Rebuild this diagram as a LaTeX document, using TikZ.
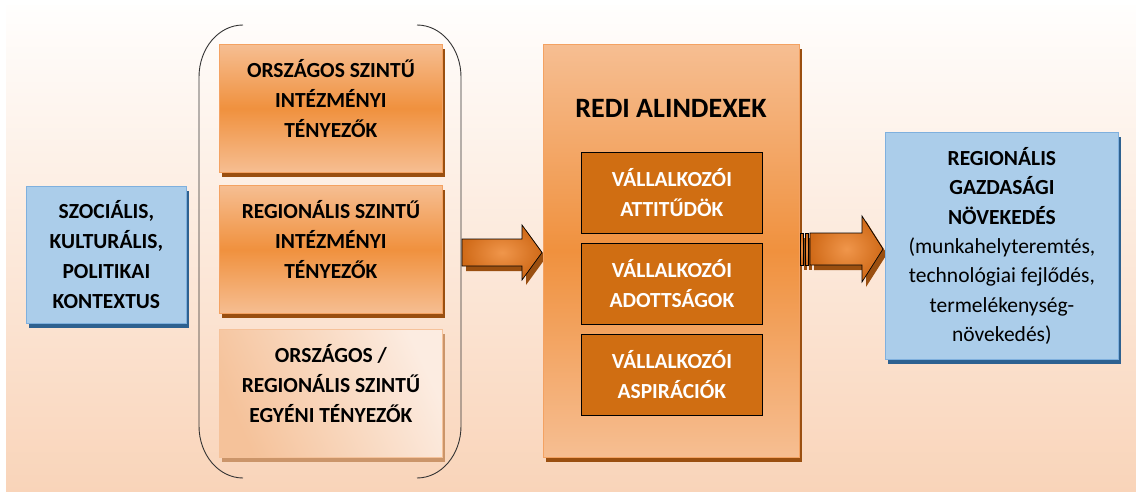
\documentclass[tikz,border=0pt]{standalone}
\usepackage{fontspec}
\setmainfont{Carlito}
\usetikzlibrary{shadows}

\definecolor{bgtop}{HTML}{FFFEFD}
\definecolor{bgbot}{HTML}{F9D4B9}
\definecolor{bluefill}{HTML}{ABCDEA}
\definecolor{blueline}{HTML}{7FB0DE}
\definecolor{blueshade}{HTML}{2E6190}
\definecolor{orangelight}{HTML}{F6BE92}
\definecolor{orangemid}{HTML}{F0913E}
\definecolor{orangeline}{HTML}{F4A262}
\definecolor{brownshade}{HTML}{9A4F10}
\definecolor{peachdark}{HTML}{F5C29A}
\definecolor{peachlight}{HTML}{FCECE1}
\definecolor{peachshade}{HTML}{CB956A}
\definecolor{subfill}{HTML}{D06E12}
\definecolor{arrowlight}{HTML}{F0964B}
\definecolor{arrowdark}{HTML}{D06A18}

\tikzset{
  boldtext/.style={font=\fontsize{21.5}{30}\selectfont\bfseries,align=center},
  bluebox/.style={draw=blueline,line width=0.8pt,fill=bluefill,anchor=north west,
    inner sep=0pt,
    drop shadow={shadow xshift=3pt,shadow yshift=-5pt,fill=blueshade,opacity=1}},
  factorbox/.style={draw=orangeline,line width=0.8pt,anchor=north west,
    minimum width=223pt,minimum height=128pt,inner sep=0pt,
    top color=orangelight,bottom color=orangelight,middle color=orangemid,
    drop shadow={shadow xshift=3pt,shadow yshift=-5pt,fill=brownshade,opacity=1}},
  lightfactor/.style={draw=peachdark,top color=peachdark,bottom color=peachlight,
    shading angle=115,
    drop shadow={shadow xshift=3pt,shadow yshift=-5pt,fill=peachshade,opacity=1}},
  redibox/.style={draw=orangeline,line width=0.8pt,anchor=north west,
    minimum width=256pt,minimum height=413pt,inner sep=0pt,
    top color=orangelight,bottom color=orangelight,middle color=orangemid,
    drop shadow={shadow xshift=3pt,shadow yshift=-5pt,fill=brownshade,opacity=1}},
  subbox/.style={draw=black,line width=0.8pt,fill=subfill,anchor=north west,
    minimum width=181pt,minimum height=81pt,inner sep=0pt,
    text=white,boldtext},
  blockarrow/.style={draw=black,line width=0.7pt,inner color=arrowlight,outer color=arrowdark,
    drop shadow={shadow xshift=4pt,shadow yshift=-5pt,fill=brownshade,opacity=1}},
  bracket/.style={draw=black!80,line width=0.9pt}
}

\begin{document}
\begin{tikzpicture}[x=1pt,y=1pt]
\useasboundingbox (0,0) rectangle (1136,-492);
% background
\shade[top color=bgtop,bottom color=bgbot] (6,-6) rectangle (1136,-492);

% context on the left
\node[bluebox,boldtext,minimum width=160pt,minimum height=137pt] (ctx) at (26,-186)
  {SZOCIÁLIS,\\KULTURÁLIS,\\POLITIKAI\\KONTEXTUS};

% round brackets around the three factor boxes
\draw[bracket] (243,-25) arc[start angle=90,end angle=180,x radius=44,y radius=52]
  -- (199,-426) arc[start angle=180,end angle=270,x radius=44,y radius=52];
\draw[bracket] (417,-25) arc[start angle=90,end angle=0,x radius=44,y radius=52]
  -- (461,-426) arc[start angle=0,end angle=-90,x radius=44,y radius=52];

% factor boxes
\node[factorbox] (fb1) at (219,-44) {};
\node[factorbox] (fb2) at (219,-185) {};
\node[factorbox,lightfactor] (fb3) at (219,-329) {};
\node[boldtext] (fb1text) at ([yshift=10pt]fb1.center) {ORSZÁGOS SZINTŰ\\INTÉZMÉNYI\\TÉNYEZŐK};
\node[boldtext] (fb2text) at ([yshift=10pt]fb2.center) {REGIONÁLIS SZINTŰ\\INTÉZMÉNYI\\TÉNYEZŐK};
\node[boldtext] (fb3text) at ([yshift=10pt]fb3.center) {ORSZÁGOS /\\REGIONÁLIS SZINTŰ\\EGYÉNI TÉNYEZŐK};

% arrow into the sub-index block
\draw[blockarrow] (462,-239) -- (522,-239) -- (522,-225) -- (542,-252.5)
  -- (522,-280) -- (522,-266) -- (462,-266) -- cycle;

% REDI sub-indices
\node[redibox] (redi) at (543,-44) {};
\node[font=\fontsize{28}{32}\selectfont\bfseries,anchor=base] (reditext) at (671,-118) {REDI ALINDEXEK};
\node[subbox] (sub1) at (581,-152) {VÁLLALKOZÓI\\ATTITŰDÖK};
\node[subbox] (sub2) at (581,-243) {VÁLLALKOZÓI\\ADOTTSÁGOK};
\node[subbox] (sub3) at (581,-334) {VÁLLALKOZÓI\\ASPIRÁCIÓK};

% striped arrow towards growth
\draw[blockarrow] (800,-233) rectangle (803,-265);
\draw[blockarrow] (805,-233) rectangle (808,-265);
\draw[blockarrow] (810,-233) -- (862,-233) -- (862,-216) -- (883,-249)
  -- (862,-282) -- (862,-265) -- (810,-265) -- cycle;

% regional growth
\node[bluebox,font=\fontsize{21.5}{29.3}\selectfont,align=center,
  minimum width=233pt,minimum height=227pt] (growth) at (885,-132)
  {\textbf{REGIONÁLIS}\\\textbf{GAZDASÁGI}\\\textbf{NÖVEKEDÉS}\\(munkahelyteremtés,\\technológiai fejlődés,\\termelékenység-\\növekedés)};
\end{tikzpicture}
\end{document}
